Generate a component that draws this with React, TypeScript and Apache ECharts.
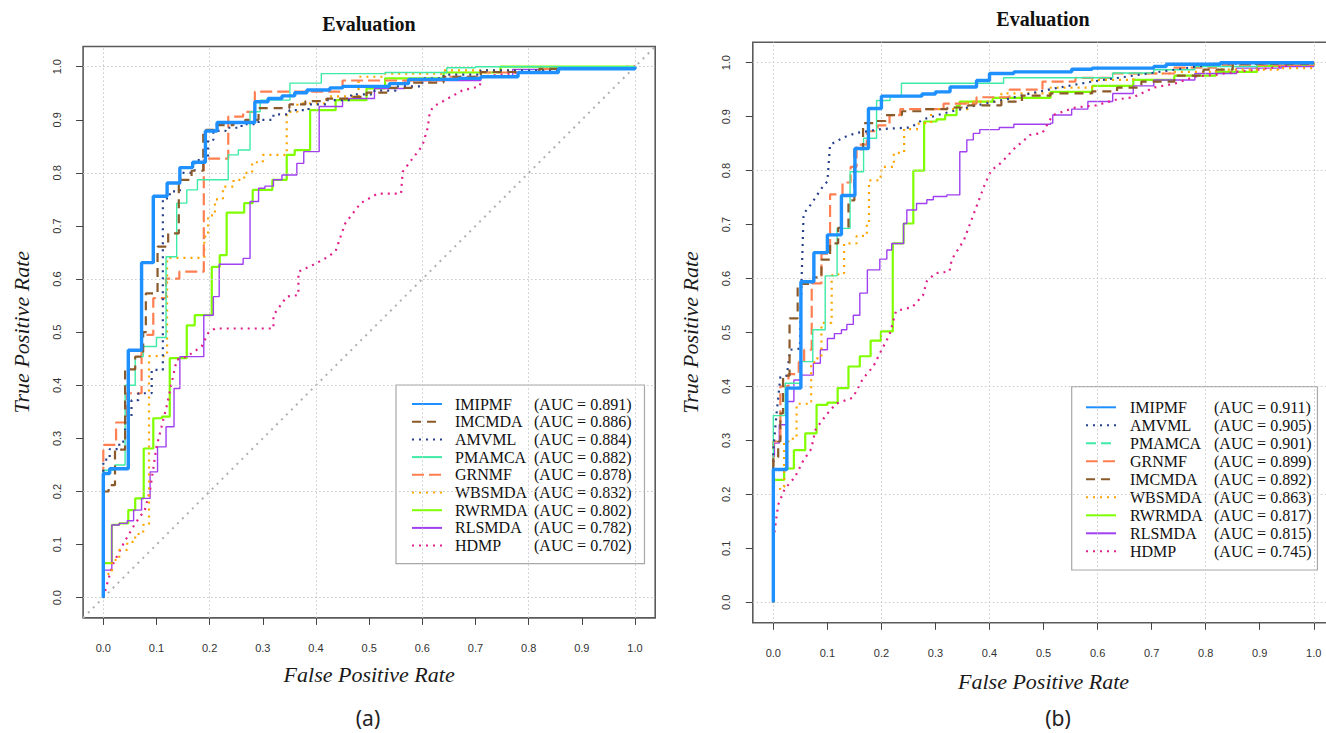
import React, { useEffect, useRef } from "react";
import * as echarts from "echarts";

// ---------- data ----------
const TICKS = [0, 0.1, 0.2, 0.3, 0.4, 0.5, 0.6, 0.7, 0.8, 0.9, 1.0];
const GRID_VALUES = [0, 0.2, 0.4, 0.6, 0.8, 1.0];

const ORDER_A = ["IMIPMF", "IMCMDA", "AMVML", "PMAMCA", "GRNMF", "WBSMDA", "RWRMDA", "RLSMDA", "HDMP"];
const AUC_A = [0.891, 0.886, 0.884, 0.882, 0.878, 0.832, 0.802, 0.782, 0.702];
const ORDER_B = ["IMIPMF", "AMVML", "PMAMCA", "GRNMF", "IMCMDA", "WBSMDA", "RWRMDA", "RLSMDA", "HDMP"];
const AUC_B = [0.911, 0.905, 0.901, 0.899, 0.892, 0.863, 0.817, 0.815, 0.745];

const A_IMIPMF = [[0,0],[0,0.234],[0.012,0.243],[0.047,0.466],[0.072,0.631],[0.094,0.756],[0.12,0.781],[0.144,0.81],[0.168,0.82],[0.192,0.879],[0.214,0.895],[0.285,0.934],[0.31,0.94],[0.336,0.945],[0.36,0.951],[0.383,0.956],[0.426,0.96],[0.45,0.963],[0.538,0.968],[0.574,0.976],[0.668,0.978],[0.71,0.981],[0.78,0.989],[0.856,0.996],[1,1]];
const A_IMCMDA = [[0,0],[0,0.2],[0.01,0.212],[0.022,0.279],[0.041,0.43],[0.06,0.454],[0.075,0.5],[0.08,0.573],[0.102,0.661],[0.122,0.686],[0.142,0.787],[0.166,0.804],[0.188,0.881],[0.21,0.89],[0.245,0.895],[0.267,0.9],[0.292,0.922],[0.35,0.929],[0.38,0.935],[0.42,0.94],[0.466,0.943],[0.495,0.951],[0.538,0.96],[0.58,0.97],[0.64,0.981],[0.71,0.99],[0.82,0.996],[1,1]];
const A_AMVML = [[0,0],[0,0.26],[0.012,0.28],[0.03,0.294],[0.041,0.338],[0.053,0.372],[0.066,0.385],[0.091,0.429],[0.112,0.752],[0.125,0.765],[0.144,0.8],[0.165,0.805],[0.172,0.824],[0.197,0.862],[0.207,0.879],[0.23,0.885],[0.26,0.892],[0.292,0.9],[0.32,0.91],[0.35,0.918],[0.386,0.929],[0.42,0.937],[0.466,0.948],[0.51,0.955],[0.55,0.963],[0.6,0.978],[0.64,0.985],[0.71,0.993],[0.856,0.996],[1,1]];
const A_PMAMCA = [[0,0],[0,0.24],[0.022,0.25],[0.041,0.4],[0.06,0.454],[0.075,0.473],[0.1,0.49],[0.118,0.642],[0.138,0.743],[0.157,0.768],[0.177,0.787],[0.235,0.834],[0.254,0.843],[0.276,0.915],[0.295,0.937],[0.351,0.969],[0.41,0.987],[0.53,0.989],[0.646,0.998],[0.7,1],[1,1]];
const A_GRNMF = [[0,0],[0,0.288],[0.024,0.33],[0.044,0.385],[0.072,0.495],[0.094,0.564],[0.118,0.601],[0.143,0.614],[0.189,0.827],[0.235,0.906],[0.263,0.915],[0.285,0.953],[0.45,0.974],[0.64,0.981],[0.71,0.989],[0.82,0.996],[1,1]];
const A_WBSMDA = [[0,0],[0,0.045],[0.016,0.071],[0.03,0.09],[0.045,0.105],[0.06,0.12],[0.075,0.137],[0.086,0.455],[0.12,0.64],[0.19,0.68],[0.197,0.72],[0.21,0.75],[0.225,0.774],[0.245,0.787],[0.265,0.8],[0.28,0.82],[0.3,0.834],[0.345,0.915],[0.365,0.931],[0.42,0.944],[0.48,0.981],[0.53,0.987],[0.64,0.993],[0.856,0.996],[1,1]];
const A_RWRMDA = [[0,0],[0,0.065],[0.016,0.137],[0.03,0.14],[0.047,0.165],[0.06,0.187],[0.076,0.281],[0.094,0.338],[0.11,0.341],[0.125,0.451],[0.157,0.513],[0.172,0.532],[0.204,0.623],[0.219,0.645],[0.232,0.725],[0.265,0.743],[0.281,0.768],[0.318,0.787],[0.345,0.834],[0.36,0.843],[0.389,0.918],[0.437,0.937],[0.495,0.959],[0.53,0.978],[0.64,0.989],[0.747,1],[1,1]];
const A_RLSMDA = [[0,0],[0,0.052],[0.016,0.137],[0.03,0.14],[0.045,0.145],[0.057,0.165],[0.072,0.187],[0.088,0.237],[0.102,0.284],[0.118,0.322],[0.133,0.394],[0.144,0.454],[0.189,0.532],[0.207,0.567],[0.218,0.628],[0.263,0.639],[0.276,0.746],[0.292,0.771],[0.304,0.775],[0.32,0.787],[0.336,0.796],[0.364,0.818],[0.377,0.84],[0.406,0.925],[0.45,0.94],[0.51,0.959],[0.567,0.974],[0.71,0.981],[0.77,0.995],[0.971,1],[1,1]];
const A_HDMP = [[0,0],[0.009,0.033],[0.019,0.065],[0.038,0.102],[0.06,0.14],[0.078,0.165],[0.088,0.203],[0.1,0.284],[0.119,0.36],[0.138,0.448],[0.157,0.454],[0.185,0.473],[0.197,0.498],[0.21,0.507],[0.32,0.507],[0.32,0.532],[0.345,0.567],[0.367,0.57],[0.367,0.614],[0.395,0.627],[0.423,0.642],[0.437,0.653],[0.455,0.705],[0.484,0.743],[0.516,0.761],[0.56,0.761],[0.563,0.802],[0.574,0.817],[0.6,0.851],[0.61,0.884],[0.614,0.914],[0.621,0.925],[0.675,0.955],[0.708,0.963],[0.711,0.981],[0.783,0.989],[0.856,0.996],[1,1]];

const B_IMIPMF = [[0,0],[0,0.246],[0.025,0.397],[0.051,0.594],[0.075,0.648],[0.1,0.681],[0.126,0.754],[0.151,0.841],[0.176,0.915],[0.2,0.938],[0.275,0.942],[0.3,0.946],[0.327,0.955],[0.376,0.967],[0.4,0.98],[0.445,0.983],[0.552,0.988],[0.59,0.99],[0.704,0.993],[0.727,0.997],[0.827,1],[1,1]];
const B_AMVML = [[0,0],[0,0.282],[0.005,0.34],[0.013,0.418],[0.025,0.42],[0.031,0.468],[0.049,0.47],[0.052,0.59],[0.056,0.72],[0.07,0.738],[0.089,0.767],[0.1,0.78],[0.105,0.848],[0.131,0.862],[0.154,0.87],[0.2,0.877],[0.254,0.88],[0.277,0.895],[0.315,0.906],[0.376,0.921],[0.43,0.932],[0.475,0.943],[0.529,0.954],[0.59,0.965],[0.666,0.976],[0.742,0.987],[0.819,0.998],[1,1]];
const B_PMAMCA = [[0,0],[0,0.346],[0.022,0.406],[0.051,0.446],[0.073,0.505],[0.096,0.605],[0.118,0.693],[0.142,0.798],[0.167,0.86],[0.191,0.93],[0.216,0.937],[0.237,0.962],[0.426,0.972],[0.628,0.981],[0.704,0.987],[0.78,0.993],[0.895,0.998],[1,1]];
const B_GRNMF = [[0,0],[0,0.298],[0.013,0.4],[0.028,0.423],[0.047,0.445],[0.057,0.468],[0.071,0.591],[0.089,0.646],[0.105,0.756],[0.128,0.778],[0.143,0.807],[0.154,0.848],[0.173,0.873],[0.193,0.884],[0.215,0.903],[0.235,0.914],[0.315,0.924],[0.376,0.936],[0.437,0.95],[0.498,0.965],[0.559,0.972],[0.628,0.98],[0.742,0.991],[0.819,0.996],[1,1]];
const B_IMCMDA = [[0,0],[0,0.269],[0.009,0.298],[0.013,0.35],[0.018,0.42],[0.03,0.526],[0.045,0.59],[0.074,0.602],[0.089,0.635],[0.105,0.665],[0.12,0.694],[0.139,0.745],[0.15,0.84],[0.166,0.888],[0.185,0.892],[0.208,0.903],[0.238,0.91],[0.277,0.914],[0.322,0.917],[0.36,0.921],[0.422,0.928],[0.46,0.939],[0.513,0.943],[0.59,0.947],[0.636,0.954],[0.681,0.965],[0.742,0.976],[0.796,0.987],[0.85,0.998],[1,1]];
const B_WBSMDA = [[0,0],[0,0.21],[0.013,0.214],[0.02,0.298],[0.036,0.305],[0.043,0.368],[0.066,0.372],[0.07,0.445],[0.08,0.452],[0.089,0.518],[0.108,0.606],[0.12,0.61],[0.131,0.665],[0.154,0.679],[0.173,0.701],[0.177,0.782],[0.193,0.789],[0.2,0.807],[0.223,0.833],[0.242,0.877],[0.269,0.888],[0.292,0.914],[0.36,0.928],[0.422,0.943],[0.513,0.954],[0.59,0.968],[0.666,0.98],[0.742,0.983],[0.819,0.987],[0.934,0.99],[1,1]];
const B_RWRMDA = [[0,0],[0,0.227],[0.02,0.248],[0.038,0.282],[0.059,0.313],[0.08,0.366],[0.1,0.37],[0.119,0.397],[0.139,0.437],[0.16,0.456],[0.18,0.485],[0.199,0.502],[0.221,0.665],[0.241,0.702],[0.259,0.8],[0.279,0.891],[0.302,0.895],[0.318,0.903],[0.339,0.92],[0.345,0.928],[0.406,0.935],[0.513,0.946],[0.59,0.957],[0.666,0.968],[0.742,0.976],[0.819,0.983],[0.895,0.994],[1,1]];
const B_RLSMDA = [[0,0],[0,0.27],[0.002,0.295],[0.011,0.329],[0.025,0.372],[0.038,0.412],[0.052,0.421],[0.074,0.443],[0.087,0.468],[0.1,0.489],[0.113,0.498],[0.126,0.505],[0.136,0.515],[0.148,0.532],[0.16,0.573],[0.174,0.616],[0.197,0.636],[0.21,0.653],[0.219,0.665],[0.241,0.702],[0.247,0.727],[0.265,0.739],[0.284,0.746],[0.296,0.752],[0.321,0.755],[0.345,0.835],[0.358,0.857],[0.37,0.869],[0.382,0.876],[0.418,0.88],[0.445,0.886],[0.513,0.888],[0.517,0.903],[0.552,0.914],[0.582,0.928],[0.628,0.943],[0.666,0.957],[0.704,0.968],[0.78,0.98],[0.857,0.99],[0.94,0.993],[1,1]];
const B_HDMP = [[0,0],[0.001,0.122],[0.009,0.181],[0.021,0.21],[0.04,0.232],[0.055,0.262],[0.07,0.284],[0.078,0.32],[0.097,0.346],[0.116,0.368],[0.147,0.379],[0.166,0.415],[0.185,0.437],[0.2,0.467],[0.215,0.496],[0.227,0.54],[0.257,0.547],[0.277,0.569],[0.284,0.595],[0.3,0.61],[0.326,0.613],[0.33,0.635],[0.353,0.672],[0.372,0.723],[0.391,0.774],[0.403,0.8],[0.422,0.815],[0.445,0.84],[0.475,0.866],[0.498,0.87],[0.517,0.903],[0.559,0.917],[0.597,0.921],[0.636,0.932],[0.666,0.936],[0.704,0.954],[0.742,0.961],[0.78,0.974],[0.819,0.978],[0.857,0.983],[0.895,0.987],[0.941,0.993],[1,1]];

const DATA_A: Record<string, number[][]> = { IMIPMF: A_IMIPMF, IMCMDA: A_IMCMDA, AMVML: A_AMVML, PMAMCA: A_PMAMCA, GRNMF: A_GRNMF, WBSMDA: A_WBSMDA, RWRMDA: A_RWRMDA, RLSMDA: A_RLSMDA, HDMP: A_HDMP };
const DATA_B: Record<string, number[][]> = { IMIPMF: B_IMIPMF, IMCMDA: B_IMCMDA, AMVML: B_AMVML, PMAMCA: B_PMAMCA, GRNMF: B_GRNMF, WBSMDA: B_WBSMDA, RWRMDA: B_RWRMDA, RLSMDA: B_RLSMDA, HDMP: B_HDMP };
const NOSTEP_A = ["HDMP"];
const NOSTEP_B = ["HDMP", "AMVML"];

// ---------- styles ----------
const STYLE: Record<string, { color: string; width: number; type: any; z: number }> = {
  IMIPMF: { color: "#1E90FF", width: 3.4, type: "solid", z: 9 },
  IMCMDA: { color: "#8B5A2B", width: 2.2, type: [9, 6], z: 8 },
  AMVML: { color: "#27408B", width: 2.2, type: [2, 5], z: 7 },
  PMAMCA: { color: "#3EEBA6", width: 1.4, type: "solid", z: 6 },
  GRNMF: { color: "#FF7F50", width: 2.2, type: [12, 5], z: 5 },
  WBSMDA: { color: "#FFA500", width: 2.2, type: [2, 5], z: 4 },
  RWRMDA: { color: "#7FFF00", width: 2.2, type: "solid", z: 3 },
  RLSMDA: { color: "#A040F0", width: 1.4, type: "solid", z: 3 },
  HDMP: { color: "#E0208A", width: 2.2, type: [2, 5], z: 3 },
};
const LEGEND_DASH_B: Record<string, any> = { PMAMCA: [10, 5] };

const FRAME = "#5a5a5a";
const SERIF = '"Liberation Serif", "Times New Roman", serif';
const SANS = '"Liberation Sans", Arial, sans-serif';

const PANELS = [
  { grid: { left: 83.1, top: 46.5, width: 572.1, height: 571.4 }, xGap: 46, yGap: 51, legend: { left: 396, top: 385, padding: [11, 13, 10, 15], gap: 1.7, pad: 8, nameW: 79 }, order: ORDER_A, auc: AUC_A, data: DATA_A, nostep: NOSTEP_A, diag: true, legendDash: {} as Record<string, any> },
  { grid: { left: 752.8, top: 42.2, width: 581.5, height: 580.6 }, xGap: 48, yGap: 51, legend: { left: 1071.7, top: 386.7, padding: [12.6, 6, 10.7, 13.3], gap: 2, pad: 9, nameW: 84 }, order: ORDER_B, auc: AUC_B, data: DATA_B, nostep: NOSTEP_B, diag: false, legendDash: LEGEND_DASH_B },
];

export default function App() {
  const ref = useRef<HTMLDivElement>(null);
  useEffect(() => {
    if (!ref.current) return;
    const chart = echarts.init(ref.current, undefined, { renderer: "svg" });
    const grids: any[] = [];
    const xAxes: any[] = [];
    const yAxes: any[] = [];
    const series: any[] = [];
    const legends: any[] = [];
    PANELS.forEach((p, i) => {
      grids.push({ ...p.grid, show: true, borderColor: FRAME, borderWidth: 1.6, backgroundColor: "transparent" });
      const common = {
        gridIndex: i, type: "value", min: -0.038, max: 1.038,
        axisLine: { show: false, onZero: false },
        axisTick: { show: true, customValues: TICKS, length: 7, lineStyle: { color: "#444", width: 1 } },
        splitLine: { show: false },
        nameLocation: "middle",
        nameTextStyle: { fontFamily: SERIF, fontStyle: "italic", fontSize: 22, color: "#1a1a1a" },
      };
      xAxes.push({
        ...common, name: "False Positive Rate", nameGap: p.xGap,
        axisLabel: { customValues: TICKS, formatter: (v: number) => v.toFixed(1), margin: 25, fontSize: 11, color: "#333", fontFamily: SANS },
      });
      yAxes.push({
        ...common, name: "True Positive Rate", nameGap: p.yGap,
        axisLabel: { customValues: TICKS, rotate: 90, formatter: (v: number) => v.toFixed(1), margin: 21, fontSize: 11, color: "#333", fontFamily: SANS },
      });
      const gridMark = {
        silent: true, symbol: "none", label: { show: false },
        lineStyle: { color: "#c8c8c8", type: [1.5, 2.5], width: 1 },
        data: [...GRID_VALUES.map((v) => ({ xAxis: v })), ...GRID_VALUES.map((v) => ({ yAxis: v }))],
      };
      series.push({
        type: "line", xAxisIndex: i, yAxisIndex: i, z: 1, silent: true, showSymbol: false, symbol: "none",
        data: p.diag ? [[-0.038, -0.038], [1.038, 1.038]] : [[0, 0], [0, 0]],
        lineStyle: p.diag ? { color: "#b0b0b0", width: 2, type: [2, 5] } : { opacity: 0 },
        markLine: gridMark,
      });
      p.order.forEach((name) => {
        const s = STYLE[name];
        series.push({
          name, type: "line", xAxisIndex: i, yAxisIndex: i, z: s.z,
          data: p.data[name], symbol: "none", showSymbol: false,
          step: p.nostep.includes(name) ? false : "end",
          itemStyle: { color: s.color },
          lineStyle: { color: s.color, width: s.width, type: s.type, cap: "butt" },
        });
      });
      const L = p.legend;
      legends.push({
        orient: "vertical", left: L.left, top: L.top, padding: L.padding,
        itemWidth: 30, itemHeight: 14, itemGap: L.gap,
        borderColor: "#a8a8a8", borderWidth: 1.2, backgroundColor: "#ffffff",
        selectedMode: false,
        itemStyle: { opacity: 0 },
        data: p.order.map((name) => ({
          name,
          itemStyle: { opacity: 0 },
          lineStyle: { color: STYLE[name].color, width: 2, type: p.legendDash[name] || STYLE[name].type, opacity: 1 },
        })),
        formatter: (name: string) => `{n|${name}}{a|(AUC = ${p.auc[p.order.indexOf(name)].toFixed(3)})}`,
        textStyle: {
          rich: {
            n: { width: L.nameW, padding: [0, 0, 0, L.pad], fontFamily: SERIF, fontSize: 16, color: "#111", lineHeight: 18 },
            a: { fontFamily: SERIF, fontSize: 16, color: "#111", lineHeight: 18 },
          },
        },
      });
    });
    chart.setOption({
      animation: false,
      backgroundColor: "#ffffff",
      grid: grids,
      xAxis: xAxes,
      yAxis: yAxes,
      legend: legends,
      series,
      graphic: [
        { type: "text", x: 369, y: 24, style: { text: "Evaluation", font: `bold 20px ${SERIF}`, fill: "#111", align: "center", verticalAlign: "middle" } },
        { type: "text", x: 1043, y: 19, style: { text: "Evaluation", font: `bold 20px ${SERIF}`, fill: "#111", align: "center", verticalAlign: "middle" } },
        { type: "text", x: 368, y: 718, style: { text: "(a)", font: '21px "Noto Sans", sans-serif', fill: "#222", align: "center", verticalAlign: "middle" } },
        { type: "text", x: 1058, y: 718, style: { text: "(b)", font: '21px "Noto Sans", sans-serif', fill: "#222", align: "center", verticalAlign: "middle" } },
      ],
    });
    return () => chart.dispose();
  }, []);
  return (
    <div style={{ position: "fixed", left: 0, top: 0, width: 1326, height: 733, overflow: "hidden", background: "#fff" }}>
      <div ref={ref} style={{ width: 1345, height: 733 }} />
    </div>
  );
}
